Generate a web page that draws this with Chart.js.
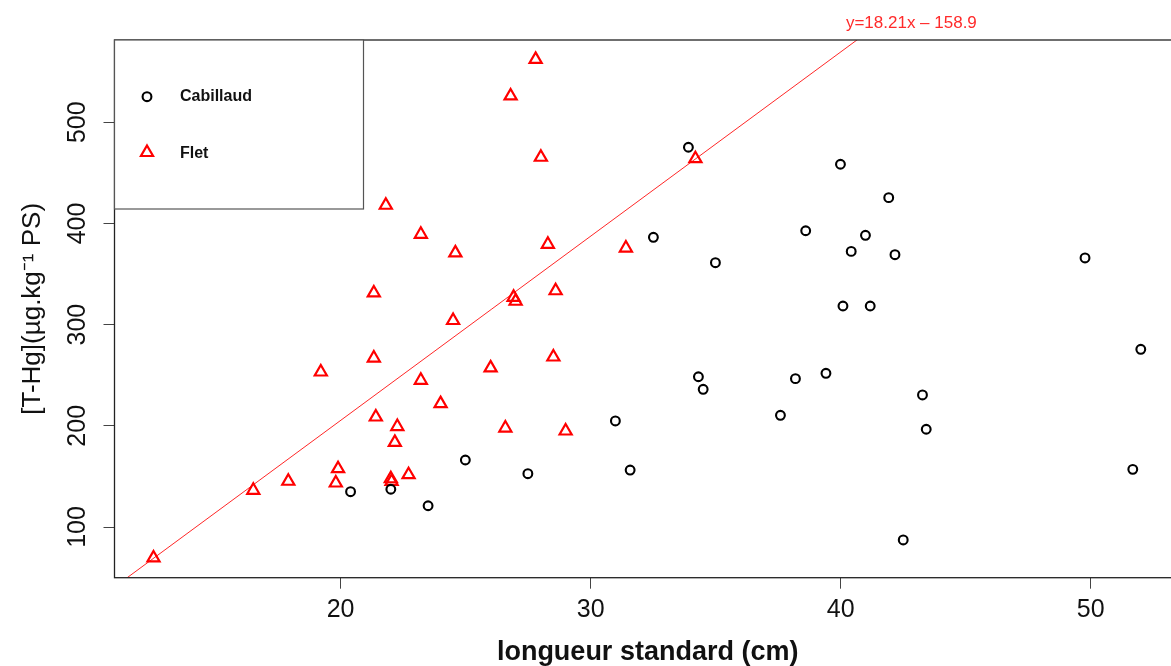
<!DOCTYPE html>
<html>
<head>
<meta charset="utf-8">
<script src="https://cdn.jsdelivr.net/npm/chart.js@4/dist/chart.umd.min.js"></script>
<style>
  html, body { margin: 0; padding: 0; background: #fff; overflow: hidden; }
  #wrap { position: relative; width: 1190px; height: 666px; }
</style>
</head>
<body>
<div id="wrap"><canvas id="c"></canvas></div>
<script>
// Cabillaud: standard length (cm) and total mercury (µg/kg dry weight)
const cabillaudLength = [20.40, 22.01, 23.50, 24.99, 27.49, 30.99, 31.58, 32.51, 33.91, 34.31,
                         34.50, 34.99, 37.59, 38.19, 38.60, 39.41, 39.99, 40.09, 40.42, 40.99,
                         41.18, 41.92, 42.17, 42.50, 43.27, 43.42, 49.77, 51.68, 52.00];
const cabillaudHg     = [134.9, 137.3, 121.0, 166.2, 152.7, 204.8, 156.3, 386.3, 475.3, 248.5,
                         236.1, 361.2, 210.4, 246.6, 392.8, 251.9, 458.5, 318.4, 372.4, 388.3,
                         318.4, 425.5, 369.1, 87.2, 230.5, 196.6, 365.9, 157.0, 275.6];

// Flet: standard length (cm) and total mercury (µg/kg dry weight)
const fletLength = [12.52, 16.51, 17.91, 19.90, 19.81, 19.21, 21.33, 21.33, 21.41, 21.81,
                    22.01, 22.04, 22.17, 22.27, 22.72, 23.21, 23.21, 24.00, 24.50, 24.59,
                    26.00, 26.59, 26.80, 26.92, 27.00, 27.80, 28.01, 28.29, 28.51, 28.60,
                    29.00, 31.41, 34.19];
const fletHg     = [69.4, 136.3, 145.2, 157.6, 143.5, 253.2, 267.0, 331.3, 208.7, 418.0,
                    147.7, 145.0, 183.6, 199.3, 151.7, 245.0, 389.3, 221.9, 304.1, 370.9,
                    257.3, 197.8, 526.0, 327.0, 323.1, 562.2, 465.4, 379.4, 268.0, 333.5,
                    194.9, 375.7, 464.0];

// Axis ticks and limits
const xTicks = [20, 30, 40, 50];
const yTicks = [100, 200, 300, 400, 500];
const xLimits = [10.96, 53.6];
const yLimits = [49.9, 581.3];

// Fitted regression line
const regSlope = 18.21;
const regIntercept = -158.9;

const toPoints = (xs, ys) => xs.map((x, i) => ({ x: x, y: ys[i] }));
const regPoints = xLimits.map(x => ({ x: x, y: regSlope * x + regIntercept }));
const regLabel = 'y=' + regSlope.toFixed(2) + 'x \u2013 ' + Math.abs(regIntercept).toFixed(1);

const FONT = '"Liberation Sans", Arial, sans-serif';

function drawMarker(ctx, ds, x, y) {
  ctx.save();
  ctx.lineWidth = ds.borderWidth;
  ctx.strokeStyle = ds.borderColor;
  ctx.fillStyle = 'rgba(0,0,0,0)';
  if (Chart.helpers && Chart.helpers.drawPoint) {
    Chart.helpers.drawPoint(ctx, { pointStyle: ds.pointStyle, radius: ds.pointRadius, borderWidth: ds.borderWidth, rotation: 0 }, x, y);
  } else {
    ctx.beginPath();
    ctx.arc(x, y, ds.pointRadius, 0, Math.PI * 2);
    ctx.stroke();
  }
  ctx.restore();
}

// Plot frame, legend box and the regression equation
const decorations = {
  id: 'decorations',
  afterDatasetsDraw(chart) {
    const { ctx, chartArea: a } = chart;
    ctx.save();
    // frame
    ctx.strokeStyle = '#222';
    ctx.lineWidth = 1.3;
    ctx.strokeRect(a.left, a.top, a.right - a.left, a.bottom - a.top);

    // legend
    const lw = 249, lh = 169;
    ctx.fillStyle = '#fff';
    ctx.fillRect(a.left, a.top, lw, lh);
    ctx.strokeStyle = '#555';
    ctx.lineWidth = 1.2;
    ctx.strokeRect(a.left, a.top, lw, lh);
    const rows = [a.top + 56.7, a.top + 113.5];
    chart.data.datasets.slice(0, 2).forEach((ds, i) => {
      const markerY = ds.pointStyle === 'triangle' ? rows[i] - 1 : rows[i];
      drawMarker(ctx, ds, a.left + 32.5, markerY);
      ctx.fillStyle = '#111';
      ctx.font = 'bold 16px ' + FONT;
      ctx.textAlign = 'left';
      ctx.textBaseline = 'middle';
      ctx.fillText(ds.label, a.left + 65.5, rows[i]);
    });

    // regression equation above the end of the line
    const xs = chart.scales.x, ys = chart.scales.y;
    const xTop = (ys.max - regIntercept) / regSlope;
    ctx.fillStyle = '#ff2a2a';
    ctx.font = '17px ' + FONT;
    ctx.textAlign = 'left';
    ctx.textBaseline = 'middle';
    ctx.fillText(regLabel, xs.getPixelForValue(xTop) - 11, a.top - 17);
    ctx.restore();
  }
};

new Chart(document.getElementById('c'), {
  type: 'scatter',
  data: {
    datasets: [
      {
        label: 'Cabillaud',
        data: toPoints(cabillaudLength, cabillaudHg),
        pointStyle: 'circle',
        pointRadius: 4.4,
        borderWidth: 2.1,
        borderColor: '#000',
        backgroundColor: 'rgba(0,0,0,0)'
      },
      {
        label: 'Flet',
        data: toPoints(fletLength, fletHg),
        pointStyle: 'triangle',
        pointRadius: 7,
        borderWidth: 2.2,
        borderColor: '#ff0000',
        backgroundColor: 'rgba(0,0,0,0)'
      },
      {
        label: 'régression',
        data: regPoints,
        showLine: true,
        pointRadius: 0,
        borderWidth: 1,
        borderColor: 'rgba(255,0,0,0.85)',
        clip: 0
      }
    ]
  },
  options: {
    responsive: true,
    maintainAspectRatio: false,
    animation: false,
    events: [],
    layout: { padding: { top: 40, right: 8, bottom: 0, left: 0 } },
    plugins: { legend: { display: false }, tooltip: { enabled: false } },
    scales: {
      x: {
        type: 'linear',
        min: xLimits[0],
        max: xLimits[1],
        afterBuildTicks: s => { s.ticks = xTicks.map(v => ({ value: v })); },
        afterFit: s => { s.height = 88.3; },
        grid: { drawOnChartArea: false, drawTicks: true, tickLength: 11, color: '#444', lineWidth: 1 },
        border: { display: false },
        ticks: { autoSkip: false, maxRotation: 0, padding: 6, color: '#111', font: { family: FONT, size: 25 } },
        title: {
          display: true,
          text: 'longueur standard (cm)',
          color: '#111',
          font: { family: FONT, size: 27, weight: 'bold', lineHeight: 1.0 },
          padding: { top: 0, bottom: 0 }
        }
      },
      y: {
        type: 'linear',
        min: yLimits[0],
        max: yLimits[1],
        afterBuildTicks: s => { s.ticks = yTicks.map(v => ({ value: v })); },
        afterFit: s => { s.width = 114.5; },
        grid: { drawOnChartArea: false, drawTicks: true, tickLength: 11, color: '#444', lineWidth: 1 },
        border: { display: false },
        ticks: {
          autoSkip: false, minRotation: 90, maxRotation: 90, crossAlign: 'center',
          padding: 5, color: '#111', font: { family: FONT, size: 25 }
        },
        title: {
          display: true,
          text: '[T-Hg](µg.kg\u207B\u00B9 PS)',
          color: '#111',
          font: { family: FONT, size: 26, lineHeight: 1.2 },
          padding: { top: 17, bottom: 0 }
        }
      }
    }
  },
  plugins: [decorations]
});
</script>
</body>
</html>
